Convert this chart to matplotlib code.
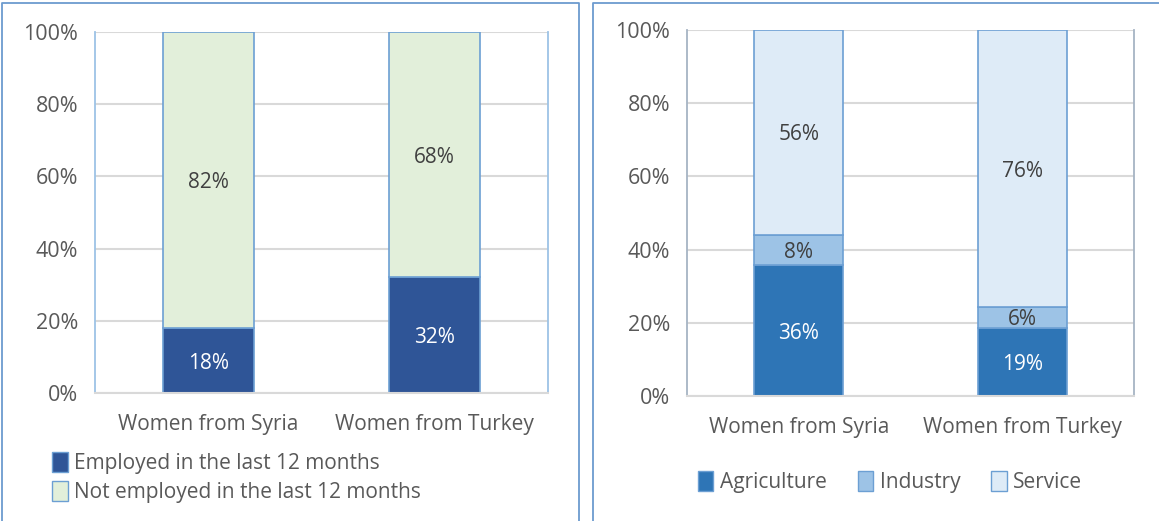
import matplotlib
matplotlib.use("Agg")
import matplotlib.pyplot as plt
from matplotlib.patches import Patch
from matplotlib.lines import Line2D
import numpy as np

plt.rcParams['font.family'] = ['Open Sans', 'DejaVu Sans']

categories = ["Women from Syria", "Women from Turkey"]
yticks = [0, 20, 40, 60, 80, 100]
ytick_labels = ["0%", "20%", "40%", "60%", "80%", "100%"]

# Left chart
employed = [18, 32.1]
not_employed = [82, 67.9]
left_series = ["Employed in the last 12 months", "Not employed in the last 12 months"]

# Right chart
agriculture = [35.7, 18.6]
industry = [8.3, 5.7]
service = [56, 75.7]
right_series = ["Agriculture", "Industry", "Service"]

TXT = "#595959"
LBL = "#404040"
EDGE = "#6C9FD3"
GRID = "#D9D9D9"
FS = 15

W, H = 1159, 521
fig = plt.figure(figsize=(W / 100, H / 100), dpi=100)


def px_axes(x0, x1, ytop, ybot):
    return fig.add_axes([x0 / W, (H - ybot) / H, (x1 - x0) / W, (ybot - ytop) / H])


def style_axes(ax, left_color, right_color):
    ax.set_xlim(-0.5, 1.5)
    ax.set_ylim(0, 100)
    ax.set_yticks(yticks)
    ax.set_yticklabels(ytick_labels)
    ax.set_xticks(range(len(categories)))
    ax.set_xticklabels(categories)
    ax.tick_params(axis='both', length=0, labelsize=FS, colors=TXT)
    ax.tick_params(axis='y', pad=12, labelsize=15.5)
    ax.tick_params(axis='x', pad=15)
    ax.grid(axis='y', color=GRID, linewidth=1.5)
    ax.set_axisbelow(True)
    ax.spines['left'].set_color(left_color)
    ax.spines['right'].set_color(right_color)
    ax.spines['top'].set_visible(False)
    ax.spines['bottom'].set_color(GRID)
    ax.spines['bottom'].set_linewidth(1.5)
    ax.spines['left'].set_linewidth(1.3)
    ax.spines['right'].set_linewidth(1.3)


def label_segments(ax, x, bottoms, heights, colors):
    for xi, b, h, c in zip(x, bottoms, heights, colors):
        ax.text(xi, b + h / 2, f"{h:.0f}%", ha='center', va='center_baseline',
                fontsize=FS, color=c)


x = np.arange(len(categories))
bw = 0.4

# ---------- left panel ----------
axL = px_axes(95, 548, 32, 393)
style_axes(axL, "#9DC3E6", "#9DC3E6")
c_emp, c_not = "#2F5597", "#E2EFDA"
axL.bar(x, employed, bw, color=c_emp, edgecolor=EDGE, linewidth=1.2)
axL.bar(x, not_employed, bw, bottom=employed, color=c_not, edgecolor=EDGE, linewidth=1.2)
label_segments(axL, x, [0, 0], employed, ["white", "white"])
label_segments(axL, x, employed, not_employed, [LBL, LBL])

hL = [Patch(facecolor=c_emp, edgecolor=EDGE, label=left_series[0]),
      Patch(facecolor=c_not, edgecolor=EDGE, label=left_series[1])]
fig.legend(handles=hL, loc='upper left', bbox_to_anchor=(44 / W, (H - 444) / H),
           frameon=False, fontsize=FS, labelcolor=TXT, handlelength=0.75,
           handleheight=1.1, handletextpad=0.3, labelspacing=0.3, borderaxespad=0)

# ---------- right panel ----------
axR = px_axes(687, 1134, 30, 396)
style_axes(axR, "#A6B4C4", "#A6B4C4")
c_ag, c_in, c_se = "#2E75B6", "#9DC3E6", "#DEEBF7"
b2 = [a + i for a, i in zip(agriculture, industry)]
axR.bar(x, agriculture, bw, color=c_ag, edgecolor=EDGE, linewidth=1.2)
axR.bar(x, industry, bw, bottom=agriculture, color=c_in, edgecolor=EDGE, linewidth=1.2)
axR.bar(x, service, bw, bottom=b2, color=c_se, edgecolor=EDGE, linewidth=1.2)
label_segments(axR, x, [0, 0], agriculture, ["white", "white"])
label_segments(axR, x, agriculture, industry, [LBL, LBL])
label_segments(axR, x, b2, service, [LBL, LBL])

hR = [Patch(facecolor=c_ag, edgecolor=EDGE, label=right_series[0]),
      Patch(facecolor=c_in, edgecolor=EDGE, label=right_series[1]),
      Patch(facecolor=c_se, edgecolor=EDGE, label=right_series[2])]
fig.legend(handles=hR, loc='center', bbox_to_anchor=(890 / W, (H - 482) / H), ncol=3,
           frameon=False, fontsize=FS, labelcolor=TXT, handlelength=0.75,
           handleheight=1.1, handletextpad=0.3, columnspacing=1.5, borderaxespad=0)

# ---------- panel borders ----------
BC = "#6C9BCF"
def fline(xs, ys):
    fig.add_artist(Line2D([v / W for v in xs], [(H - v) / H for v in ys],
                          color=BC, linewidth=1.3))

fline([2, 2, 579, 579], [521, 3, 3, 521])
fline([593, 593, 1159], [521, 3, 3])

fig.savefig("out.png", dpi=100)
